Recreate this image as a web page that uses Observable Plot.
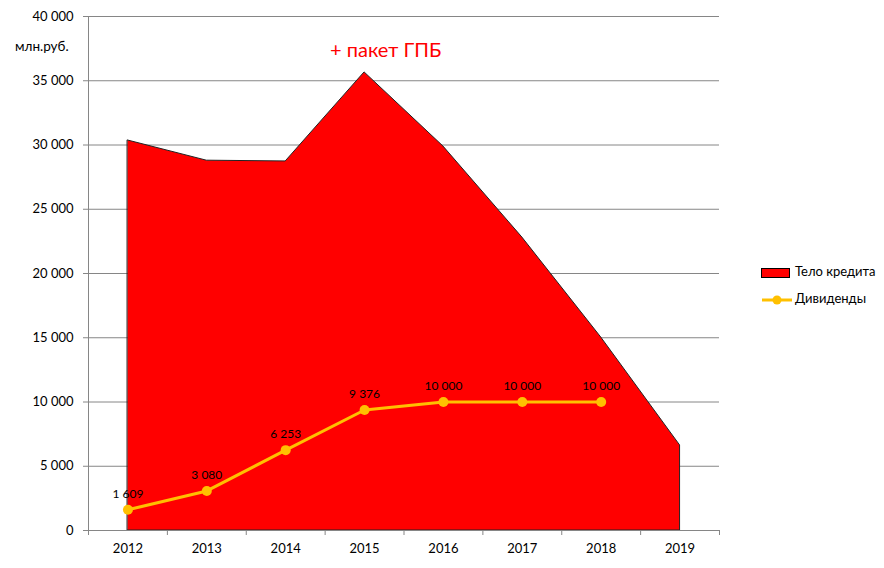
<!DOCTYPE html>
<html><head><meta charset="utf-8">
<script src="https://cdn.jsdelivr.net/npm/d3@7"></script>
<script src="https://cdn.jsdelivr.net/npm/@observablehq/plot@0.6"></script>
<style>
body{margin:0;background:#fff;font-family:Lato,"Open Sans",sans-serif;}
#wrap{position:relative;width:884px;height:568px;}
.lbl{position:absolute;white-space:nowrap;}
</style></head>
<body><div id="wrap"></div>
<script>
const years = [2012, 2013, 2014, 2015, 2016, 2017, 2018, 2019];
const loanBody = [30350, 28780, 28720, 35650, 29880, 22800, 15020, 6620];
const divYears = [2012, 2013, 2014, 2015, 2016, 2017, 2018];
const dividends = [1609, 3080, 6253, 9376, 10000, 10000, 10000];
const yTicks = [0, 5000, 10000, 15000, 20000, 25000, 30000, 35000, 40000];

const loc = d3.formatLocale({decimal: ",", thousands: " ", grouping: [3], currency: ["", ""]});
const fmt = loc.format(",d");

const area = years.map((y, i) => ({year: y, v: loanBody[i]}));
const div = divYears.map((y, i) => ({year: y, v: dividends[i]}));
const bounds = [years[0] - 0.5, ...years.map(y => y + 0.5)];

const grid = "#868686";
const chart = Plot.plot({
  width: 884, height: 568,
  marginLeft: 88, marginRight: 165, marginTop: 16, marginBottom: 38,
  style: {fontFamily: "Lato, 'Open Sans', sans-serif", fontSize: "13px", color: "#000", background: "#fff"},
  x: {type: "linear", domain: [years[0] - 0.5, years[years.length - 1] + 0.5]},
  y: {domain: [0, 40000]},
  marks: [
    Plot.gridY(yTicks, {stroke: grid, strokeOpacity: 1}),
    Plot.areaY(area, {x: "year", y: "v", fill: "#ff0000", stroke: "#222", strokeWidth: 1}),
    Plot.ruleX([bounds[0]], {stroke: grid}),
    Plot.ruleY([0], {stroke: grid}),
    Plot.axisY({ticks: yTicks, tickSize: 5, tickPadding: 10, tickFormat: fmt, stroke: grid, label: null, fontSize: 13}),
    Plot.axisX({ticks: bounds, tickSize: 5, tickFormat: () => "", stroke: grid, label: null}),
    Plot.axisX({ticks: years, tickSize: 0, tickPadding: 13, tickFormat: d => String(d), label: null, fontSize: 13}),
    Plot.line(div, {x: "year", y: "v", stroke: "#ffc000", strokeWidth: 3}),
    Plot.dot(div, {x: "year", y: "v", fill: "#ffc000", r: 5}),
    Plot.text(div, {x: "year", y: "v", text: d => fmt(d.v), dy: -16, fill: "#000", fontSize: 12})
  ]
});
const wrap = document.getElementById("wrap");
wrap.appendChild(chart);

function addLabel(html, css) {
  const d = document.createElement("div");
  d.className = "lbl";
  d.innerHTML = html;
  Object.assign(d.style, css);
  wrap.appendChild(d);
}
addLabel("млн.руб.", {left: "15px", top: "38px", fontSize: "13.5px", color: "#000"});
addLabel("+ пакет ГПБ", {left: "330px", top: "37px", fontSize: "20px", color: "#ff0000"});
// legend
addLabel('<span style="display:inline-block;width:27px;height:8px;background:#ff0000;border:1px solid #000;vertical-align:middle;margin-right:5px"></span>Тело кредита',
  {left: "761px", top: "263px", fontSize: "13px", color: "#000"});
addLabel('<svg width="30" height="12" style="vertical-align:middle;margin-right:3px"><line x1="0" y1="6" x2="30" y2="6" stroke="#ffc000" stroke-width="3"/><circle cx="15" cy="6" r="4.5" fill="#ffc000"/></svg>Дивиденды',
  {left: "762px", top: "290px", fontSize: "13px", color: "#000"});
</script></body></html>
